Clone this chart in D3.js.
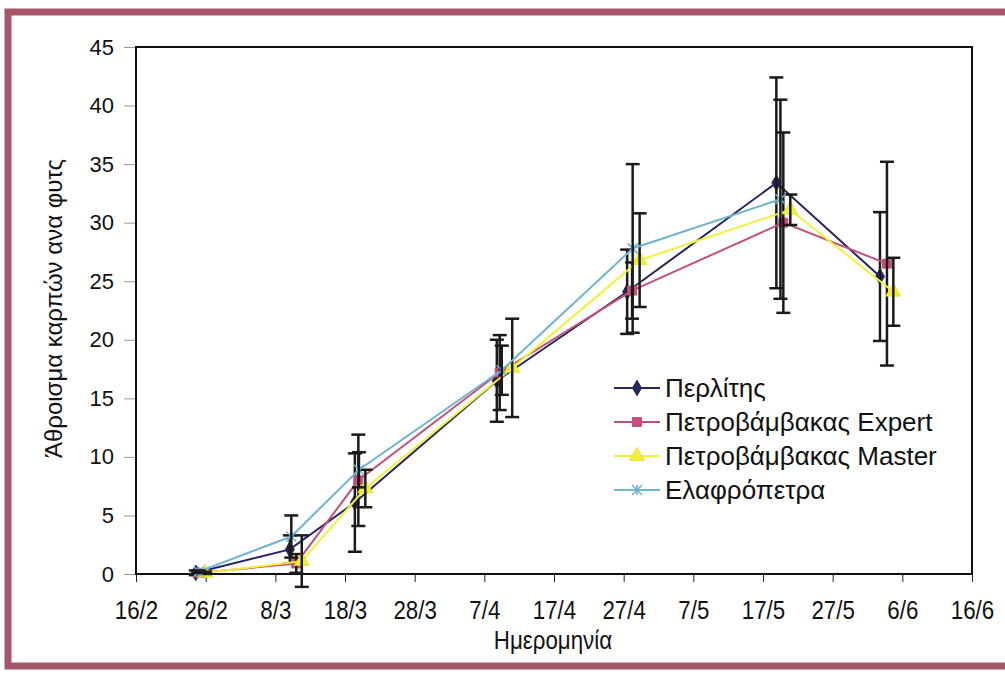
<!DOCTYPE html>
<html>
<head>
<meta charset="utf-8">
<script src="https://cdn.jsdelivr.net/npm/d3@7"></script>
<style>
  body { margin: 0; background: #fff; }
  svg text { font-family: "Liberation Sans", Arial, sans-serif; fill: #111; }
</style>
</head>
<body>
<div id="chart"></div>
<script>
// Sampling dates are shifted a little per series (as in the original sheet)
const seriesNames = ["Περλίτης", "Πετροβάμβακας Expert", "Πετροβάμβακας Master", "Ελαφρόπετρα"];
const seriesColors = ["#25255f", "#c4507a", "#f4f03a", "#70b4d0"];
const seriesMarkers = ["diamond", "square", "triangle", "asterisk"];

const perlitisDates = ["2007-02-24T14:00", "2007-03-10T02:00", "2007-03-19T10:00", "2007-04-08T19:00", "2007-04-27T12:00", "2007-05-18T22:00", "2007-06-02T19:00"];
const perlitisValues = [0.1, 2.1, 6.1, 16.5, 24.1, 33.4, 25.4];
const perlitisErr = [0.2, 1.2, 4.2, 3.5, 3.6, 9.0, 5.5];

const expertDates = ["2007-02-25T05:00", "2007-03-11T00:00", "2007-03-19T22:00", "2007-04-09T05:00", "2007-04-28T05:00", "2007-05-19T22:00", "2007-06-03T19:00"];
const expertValues = [0.1, 0.9, 8.0, 17.2, 24.2, 30.0, 26.5];
const expertErr = [0.1, 0.8, 3.9, 3.2, 2.4, 7.7, 8.7];

const masterDates = ["2007-02-25T22:00", "2007-03-11T19:00", "2007-03-20T22:00", "2007-04-11T00:00", "2007-04-29T07:00", "2007-05-20T22:00", "2007-06-04T17:00"];
const masterValues = [0.1, 1.1, 7.3, 17.6, 26.8, 31.1, 24.1];
const masterErr = [0.1, 2.2, 1.6, 4.2, 4.0, 1.3, 2.9];

const elafroDates = ["2007-02-25T00:00", "2007-03-10T07:00", "2007-03-20T00:00", "2007-04-09T12:00", "2007-04-28T07:00", "2007-05-19T12:00"];
const elafroValues = [0.2, 3.2, 8.9, 17.4, 27.8, 32.0];
const elafroErr = [0.1, 1.8, 1.5, 2.1, 7.2, 8.5];

const xTickDates = ["2007-02-16", "2007-02-26", "2007-03-08", "2007-03-18", "2007-03-28", "2007-04-07", "2007-04-17",
                    "2007-04-27", "2007-05-07", "2007-05-17", "2007-05-27", "2007-06-06", "2007-06-16"];
const yTicks = [0, 5, 10, 15, 20, 25, 30, 35, 40, 45];

const parse = d3.timeParse("%Y-%m-%dT%H:%M");
const parseDay = d3.timeParse("%Y-%m-%d");

const series = [
    [perlitisDates, perlitisValues, perlitisErr],
    [expertDates, expertValues, expertErr],
    [masterDates, masterValues, masterErr],
    [elafroDates, elafroValues, elafroErr]
].map((s, i) => ({
    name: seriesNames[i],
    color: seriesColors[i],
    marker: seriesMarkers[i],
    points: s[0].map((d, j) => ({ date: parse(d), value: s[1][j], err: s[2][j] }))
}));

const W = 1005, H = 677;
const margin = { top: 47, right: 33, bottom: 103, left: 136 };
const width = W - margin.left - margin.right;
const height = H - margin.top - margin.bottom;

const svg = d3.select("#chart").append("svg")
    .attr("width", W)
    .attr("height", H);

// maroon frame of the scanned figure
svg.append("rect")
    .attr("x", 8).attr("y", 12)
    .attr("width", 1020).attr("height", 654)
    .attr("fill", "none")
    .attr("stroke", "#a5566a")
    .attr("stroke-width", 7);

const g = svg.append("g")
    .attr("transform", `translate(${margin.left},${margin.top})`);

const x = d3.scaleTime()
    .domain([parseDay(xTickDates[0]), parseDay(xTickDates[xTickDates.length - 1])])
    .range([0, width]);

const y = d3.scaleLinear()
    .domain([0, 45])
    .range([height, 0]);

// axes
const xAxis = g.append("g")
    .attr("transform", `translate(0,${height})`)
    .call(d3.axisBottom(x)
        .tickValues(xTickDates.map(parseDay))
        .tickFormat(d3.timeFormat("%-d/%-m"))
        .tickSize(8));
xAxis.select(".domain").remove();
xAxis.selectAll("line").attr("stroke", "#222").attr("stroke-width", 1);
// condensed look: scale each label around its own tick
xAxis.selectAll(".tick text")
    .style("font-size", "24px")
    .attr("transform", "scale(0.93,1.08)")
    .attr("y", 25);

const yAxis = g.append("g")
    .call(d3.axisLeft(y)
        .tickValues(yTicks)
        .tickSize(12)
        .tickPadding(10));
yAxis.select(".domain").remove();
yAxis.selectAll("line").attr("stroke", "#999").attr("stroke-width", 1);
yAxis.selectAll("text").style("font-size", "22px");

// plot frame
g.append("rect")
    .attr("width", width)
    .attr("height", height)
    .attr("fill", "none")
    .attr("stroke", "#111")
    .attr("stroke-width", 2);

// axis titles
g.append("text")
    .attr("transform", `translate(${-74},${height / 2 - 2}) rotate(-90)`)
    .attr("text-anchor", "middle")
    .style("font-size", "24px")
    .text("Άθροισμα καρπών ανα φυτς");

g.append("text")
    .attr("transform", `translate(${width / 2 - 1},${height + 75}) scale(0.93,1.08)`)
    .attr("text-anchor", "middle")
    .style("font-size", "24px")
    .text("Ημερομηνία");

const line = d3.line()
    .x(d => x(d.date))
    .y(d => y(d.value));

function drawMarker(sel, type, color, size) {
    if (type === "asterisk") {
        const s = size / 2;
        sel.append("path")
            .attr("d", `M${-s},${-s}L${s},${s}M${-s},${s}L${s},${-s}M0,${-s}L0,${s}`)
            .attr("stroke", color)
            .attr("stroke-width", 1.6)
            .attr("fill", "none");
    } else {
        const sym = { diamond: d3.symbolDiamond, square: d3.symbolSquare, triangle: d3.symbolTriangle }[type];
        const area = { diamond: 70, square: 80, triangle: 95 }[type];
        sel.append("path")
            .attr("d", d3.symbol().type(sym).size(area * size / 10)())
            .attr("fill", color)
            .attr("stroke", type === "triangle" ? "#e9e22c" : color)
            .attr("stroke-width", 1);
    }
}

series.forEach(s => {
    const sg = g.append("g");

    sg.append("path")
        .datum(s.points)
        .attr("fill", "none")
        .attr("stroke", s.color)
        .attr("stroke-width", 2)
        .attr("d", line);

    const mk = sg.selectAll(".mk")
        .data(s.points)
        .enter().append("g")
        .attr("transform", d => `translate(${x(d.date)},${y(d.value)})`);
    drawMarker(mk, s.marker, s.color, 10);

    // error bars
    const eb = sg.selectAll(".eb")
        .data(s.points)
        .enter().append("g")
        .attr("stroke", "#1a1a1a")
        .attr("stroke-width", 2.5);
    eb.append("line")
        .attr("x1", d => x(d.date)).attr("x2", d => x(d.date))
        .attr("y1", d => y(d.value + d.err)).attr("y2", d => y(d.value - d.err));
    eb.append("line")
        .attr("x1", d => x(d.date) - 7).attr("x2", d => x(d.date) + 7)
        .attr("y1", d => y(d.value + d.err)).attr("y2", d => y(d.value + d.err));
    eb.append("line")
        .attr("x1", d => x(d.date) - 7).attr("x2", d => x(d.date) + 7)
        .attr("y1", d => y(d.value - d.err)).attr("y2", d => y(d.value - d.err));
});

// legend
const legend = g.selectAll(".legend")
    .data(series)
    .enter().append("g")
    .attr("class", "legend")
    .attr("transform", (d, i) => `translate(${478},${341 + i * 34})`);

legend.append("line")
    .attr("x1", 0).attr("x2", 46)
    .attr("stroke", d => d.color)
    .attr("stroke-width", 2);

legend.each(function(d) {
    const m = d3.select(this).append("g").attr("transform", "translate(23,0)");
    drawMarker(m, d.marker, d.color, 10);
});

legend.append("text")
    .attr("x", 51)
    .attr("dy", "0.36em")
    .style("font-size", "26px")
    .text(d => d.name);
</script>
</body>
</html>
